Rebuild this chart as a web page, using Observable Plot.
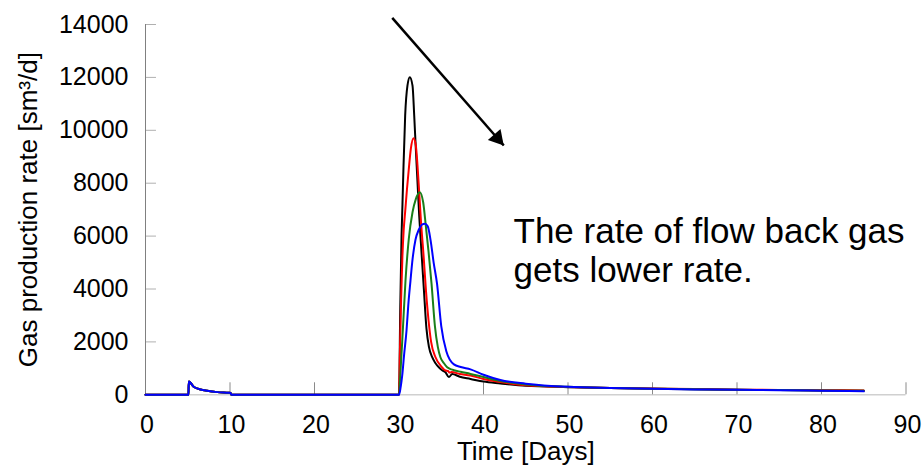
<!DOCTYPE html>
<html>
<head>
<meta charset="utf-8">
<script src="https://cdn.jsdelivr.net/npm/d3@7"></script>
<script src="https://cdn.jsdelivr.net/npm/@observablehq/plot@0.6"></script>
<style>
  html, body { margin: 0; padding: 0; background: #fff; }
  #chart { width: 924px; height: 470px; }
</style>
</head>
<body>
<div id="chart"></div>
<script>
// ---- data ----
const seriesNames = ["Case 1", "Case 2", "Case 3", "Case 4"];
const seriesColors = ["#000000", "#ff0000", "#1a7f1a", "#0000ff"];

// shared history before day 30 (all four curves coincide)
const earlyDays = [0, 5.08, 5.13, 5.3, 5.7, 6.5, 7.3, 8.5, 9.85, 10.08, 10.15, 29.9];
const earlyRate = [0, 0, 505, 467, 303, 202, 151, 101, 76, 70, 0, 0];

const blackDays = [30.0, 30.15, 30.3, 30.41, 30.53, 30.73, 31.0, 31.28, 31.6, 31.8, 31.99, 32.19, 32.39, 32.6, 32.94, 33.25, 33.55, 33.93, 34.3, 34.71, 35.1, 35.5, 35.9, 36.3, 37.2, 38.46, 40, 42, 45, 50, 55, 60, 65, 70, 75, 80, 85];
const blackRate = [0, 3300, 6000, 7200, 8600, 10560, 11690, 12010, 11690, 10560, 9300, 8040, 6780, 5700, 4000, 2500, 1800, 1420, 1200, 1040, 930, 850, 670, 790, 680, 600, 500, 430, 340, 290, 255, 230, 210, 190, 177, 165, 155];

const redDays = [30.0, 30.1, 30.25, 30.4, 30.55, 30.75, 30.95, 31.15, 31.4, 31.72, 31.99, 32.19, 32.39, 32.58, 32.9, 33.2, 33.5, 33.8, 34.32, 35.1, 35.5, 35.8, 36.0, 36.2, 37.2, 38.46, 40, 42, 45, 50, 55, 60, 65, 70, 75, 80, 85];
const redRate = [0, 1500, 3600, 5200, 6200, 7000, 7800, 8500, 9300, 9700, 9430, 8670, 7660, 6650, 5300, 3900, 2800, 2000, 1420, 1040, 920, 900, 840, 860, 790, 730, 600, 480, 360, 295, 260, 235, 215, 195, 182, 172, 165];

const greenDays = [30.0, 30.15, 30.45, 30.77, 31.16, 31.6, 31.99, 32.46, 32.86, 33.17, 33.5, 33.85, 34.25, 34.6, 34.9, 35.3, 35.7, 36.2, 36.5, 37.3, 38.46, 40, 42, 45, 50, 55, 60, 65, 70, 75, 80, 85];
const greenRate = [0, 730, 2430, 4320, 5900, 6900, 7400, 7660, 7280, 6400, 5400, 4200, 2600, 1800, 1420, 1200, 1040, 960, 930, 870, 790, 670, 520, 390, 300, 260, 232, 210, 192, 178, 165, 150];

const blueDays = [30.0, 30.2, 30.38, 30.6, 30.89, 31.1, 31.36, 31.56, 31.95, 32.34, 32.7, 33.05, 33.4, 33.73, 34.1, 34.5, 35.0, 35.6, 36.5, 37.3, 38.46, 40, 42, 45, 50, 55, 60, 65, 70, 75, 80, 85];
const blueRate = [0, 300, 730, 1500, 2430, 3400, 4320, 5000, 5860, 6240, 6430, 6470, 6370, 5860, 5000, 4200, 2600, 1650, 1150, 1050, 960, 760, 560, 420, 300, 255, 228, 205, 188, 173, 155, 130];

const xTicks = [0, 10, 20, 30, 40, 50, 60, 70, 80, 90];
const yTicks = [0, 2000, 4000, 6000, 8000, 10000, 12000, 14000];
const xLabel = "Time [Days]";
const yLabel = "Gas production rate [sm\u00B3/d]";

const annoLines = ["The rate of flow back gas", "gets lower rate."];
const annoX = [43.55, 43.55];
const annoY = [6155, 4680];
const arrowFrom = [29.2, 14253];
const arrowTo = [42.4, 9425];

// ---- build table ----
const perSeries = [[blackDays, blackRate], [redDays, redRate], [greenDays, greenRate], [blueDays, blueRate]];
const rows = [];
perSeries.forEach(([days, rates], s) => {
  earlyDays.forEach((d, i) => rows.push({series: seriesNames[s], day: d, rate: earlyRate[i]}));
  days.forEach((d, i) => rows.push({series: seriesNames[s], day: d, rate: rates[i]}));
});
const anno = annoLines.map((t, i) => ({text: t, x: annoX[i], y: annoY[i]}));
const arrow = [{x1: arrowFrom[0], y1: arrowFrom[1], x2: arrowTo[0], y2: arrowTo[1]}];

const chart = Plot.plot({
  width: 924,
  height: 470,
  marginLeft: 145,
  marginRight: 18.5,
  marginTop: 24,
  marginBottom: 75.7,
  x: {domain: [0, 90]},
  y: {domain: [0, 14000]},
  color: {domain: seriesNames, range: seriesColors},
  style: {fontFamily: "Arial, 'Liberation Sans', sans-serif", fontSize: "25px", color: "#000", background: "#fff"},
  marks: [
    Plot.ruleY([0], {x1: 0, x2: 90, stroke: "#d0d0d0", strokeWidth: 1.5}),
    Plot.ruleX(xTicks.slice(1), {y1: 0, y2: 454, stroke: "#8a8a8a"}),
    Plot.ruleY(yTicks.slice(1), {x1: 0, x2: 1.3, stroke: "#b0b0b0"}),
    Plot.ruleX([0], {y1: 0, y2: 14000, stroke: "#808080"}),
    Plot.axisX(xTicks, {tickSize: 0, tickPadding: 20, dx: 1.5, tickFormat: d => String(d), label: null}),
    Plot.axisY(yTicks, {tickSize: 0, tickPadding: 17, tickFormat: d3.format("d"), label: null}),
    Plot.line(rows, {x: "day", y: "rate", z: "series", stroke: "series", strokeWidth: 2, curve: "monotone-x"}),
    Plot.link(arrow, {x1: "x1", y1: "y1", x2: "x2", y2: "y2", stroke: "#000", strokeWidth: 2.5}),
    Plot.dot(arrow, {x: "x2", y: "y2", symbol: "triangle2", r: 8, fill: "#000", stroke: "none", rotate: 138.9, dx: -6.4, dy: -7.3}),
    Plot.text(anno, {x: "x", y: "y", text: "text", textAnchor: "start", lineAnchor: "middle", fontSize: 35, fill: "#000"}),
    Plot.text([yLabel], {frameAnchor: "left", dx: -117, rotate: -90, textAnchor: "middle", lineAnchor: "middle", fontSize: 26, fill: "#000"}),
    Plot.text([xLabel], {frameAnchor: "bottom", dy: 56.5, textAnchor: "middle", lineAnchor: "middle", fontSize: 26, fill: "#000"})
  ]
});
document.getElementById("chart").appendChild(chart);
</script>
</body>
</html>
